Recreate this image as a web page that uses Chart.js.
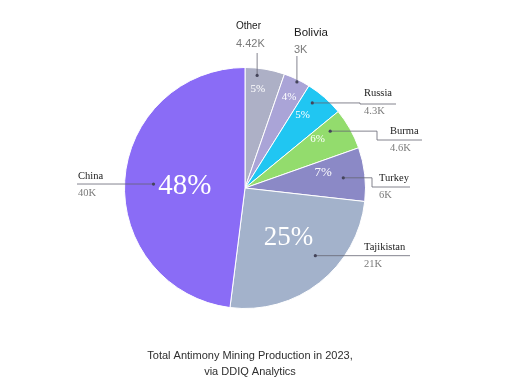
<!DOCTYPE html>
<html>
<head>
<meta charset="utf-8">
<script src="https://cdn.jsdelivr.net/npm/chart.js@4.4.1/dist/chart.umd.min.js"></script>
<style>
  html, body { margin: 0; padding: 0; background: #ffffff; }
  #wrap { width: 512px; height: 387px; }
</style>
</head>
<body>
<div id="wrap"><canvas id="c" width="512" height="387"></canvas></div>
<script>
// ---- data ----
const categories = ["Other", "Bolivia", "Russia", "Burma", "Turkey", "Tajikistan", "China"];
const valuesK = [4.42, 3, 4.3, 4.6, 6, 21, 40];
const valueLabels = ["4.42K", "3K", "4.3K", "4.6K", "6K", "21K", "40K"];
const percentLabels = ["5%", "4%", "5%", "6%", "7%", "25%", "48%"];
const titleLines = ["Total Antimony Mining Production in 2023,", "via DDIQ Analytics"];

// ---- styles ----
const sliceColors = ["#adb0c6", "#aaa4d7", "#20c6f2", "#93dc6d", "#8b89c6", "#a3b2cb", "#8a6cf6"];
const SERIF = "'Liberation Serif', 'DejaVu Serif', serif";
const SANS = "'Liberation Sans', Arial, sans-serif";

// per-slice annotation layout (radius fractions, angle shifts in degrees)
const pctStyle = [
  { r: 0.83, shift: -2.2, size: 11, font: SERIF },
  { r: 0.84, shift: 0.3, size: 11, font: SERIF },
  { r: 0.77, shift: -3.0, size: 11, font: SERIF },
  { r: 0.725, shift: -4.5, size: 11, font: SERIF },
  { r: 0.66, shift: -4.5, size: 13, font: SERIF },
  { r: 0.55, shift: -2.9, size: 27, font: SERIF },
  { r: 0.50, shift: -2.2, size: 29, font: SERIF }
];
const dotStyle = [
  { r: 0.94, shift: -3.4 },
  { r: 0.98, shift: 0.5 },
  { r: 0.90, shift: -3.0 },
  { r: 0.85, shift: -4.3 },
  { r: 0.82, shift: 0.6 },
  { r: 0.81, shift: -7.9 },
  { r: 0.76, shift: -1.1 }
];
// label: name position, value position, leader geometry (px from pie centre)
const labelStyle = [
  { nx: -9,  ny: -162, vx: -9,  vy: -144, font: SANS, size: 10, weight: "normal", vfont: SANS, vsize: 11,
    leader: { type: "up", topY: -135 } },
  { nx: 49,  ny: -155, vx: 49,  vy: -138, font: SANS, size: 11.5, weight: "500", vfont: SANS, vsize: 11,
    leader: { type: "up", topY: -132 } },
  { nx: 119, ny: -95,  vx: 119, vy: -77, font: SERIF, size: 10.5, weight: "normal", vfont: SERIF, vsize: 10.5,
    leader: { type: "elbow", elbowX: 115, lineY: -84, endX: 151 } },
  { nx: 145, ny: -57,  vx: 145, vy: -40, font: SERIF, size: 10.5, weight: "normal", vfont: SERIF, vsize: 10.5,
    leader: { type: "elbow", elbowX: 132, lineY: -48, endX: 177 } },
  { nx: 134, ny: -10,  vx: 134, vy: 7,   font: SERIF, size: 10.5, weight: "normal", vfont: SERIF, vsize: 10.5,
    leader: { type: "elbow", elbowX: 127, lineY: -1, endX: 165 } },
  { nx: 119, ny: 59,   vx: 119, vy: 76,  font: SERIF, size: 10.5, weight: "normal", vfont: SERIF, vsize: 10.5,
    leader: { type: "flat", endX: 165 } },
  { nx: -167, ny: -12, vx: -167, vy: 5,  font: SERIF, size: 10.5, weight: "normal", vfont: SERIF, vsize: 10.5,
    leader: { type: "flat", endX: -168 } }
];

const annotatePlugin = {
  id: "annotate",
  afterDatasetsDraw(chart) {
    const ctx = chart.ctx;
    const meta = chart.getDatasetMeta(0);
    meta.data.forEach((arc, i) => {
      const p = arc.getProps(["x", "y", "startAngle", "endAngle", "outerRadius"], true);
      const cx = p.x, cy = p.y, R = p.outerRadius;
      const mid = (p.startAngle + p.endAngle) / 2;
      // percent label
      const ps = pctStyle[i];
      const pa = mid + ps.shift * Math.PI / 180;
      ctx.save();
      ctx.fillStyle = "#ffffff";
      ctx.font = `${ps.size}px ${ps.font}`;
      ctx.textAlign = "center";
      ctx.textBaseline = "middle";
      ctx.fillText(percentLabels[i], cx + Math.cos(pa) * R * ps.r, cy + Math.sin(pa) * R * ps.r);
      ctx.restore();

      // leader dot
      const ds = dotStyle[i];
      const da = mid + ds.shift * Math.PI / 180;
      const dx = cx + Math.cos(da) * R * ds.r;
      const dy = cy + Math.sin(da) * R * ds.r;
      const ls = labelStyle[i];
      const L = ls.leader;
      ctx.save();
      ctx.strokeStyle = "#646472";
      ctx.lineWidth = 0.8;
      ctx.beginPath();
      ctx.moveTo(dx, dy);
      if (L.type === "up") {
        ctx.lineTo(dx, cy + L.topY);
      } else if (L.type === "elbow") {
        ctx.lineTo(cx + L.elbowX, dy);
        ctx.lineTo(cx + L.elbowX, cy + L.lineY);
        ctx.lineTo(cx + L.endX, cy + L.lineY);
      } else {
        ctx.lineTo(cx + L.endX, dy);
      }
      ctx.stroke();
      ctx.fillStyle = "#44445a";
      ctx.beginPath();
      ctx.arc(dx, dy, 1.6, 0, Math.PI * 2);
      ctx.fill();

      // name + value
      ctx.textAlign = "left";
      ctx.textBaseline = "middle";
      ctx.fillStyle = "#1a1a1a";
      ctx.font = `${ls.weight} ${ls.size}px ${ls.font}`;
      ctx.fillText(categories[i], cx + ls.nx, cy + ls.ny);
      ctx.fillStyle = "#7a7a7a";
      ctx.font = `${ls.vsize}px ${ls.vfont}`;
      ctx.fillText(valueLabels[i], cx + ls.vx, cy + ls.vy);
      ctx.restore();
    });

    // caption
    ctx.save();
    ctx.fillStyle = "#2e2e2e";
    ctx.font = `11px ${SANS}`;
    ctx.textAlign = "center";
    ctx.textBaseline = "middle";
    ctx.fillText(titleLines[0], 250, 356);
    ctx.fillText(titleLines[1], 250, 372);
    ctx.restore();
  }
};

new Chart(document.getElementById("c"), {
  type: "pie",
  data: {
    labels: categories,
    datasets: [{
      data: valuesK,
      backgroundColor: sliceColors,
      borderColor: "#ffffff",
      borderWidth: 1
    }]
  },
  options: {
    responsive: false,
    devicePixelRatio: 1,
    animation: false,
    layout: { padding: { left: 124, right: 146, top: 67, bottom: 78 } },
    plugins: {
      legend: { display: false },
      tooltip: { enabled: false },
      title: { display: false }
    }
  },
  plugins: [annotatePlugin]
});
</script>
</body>
</html>
